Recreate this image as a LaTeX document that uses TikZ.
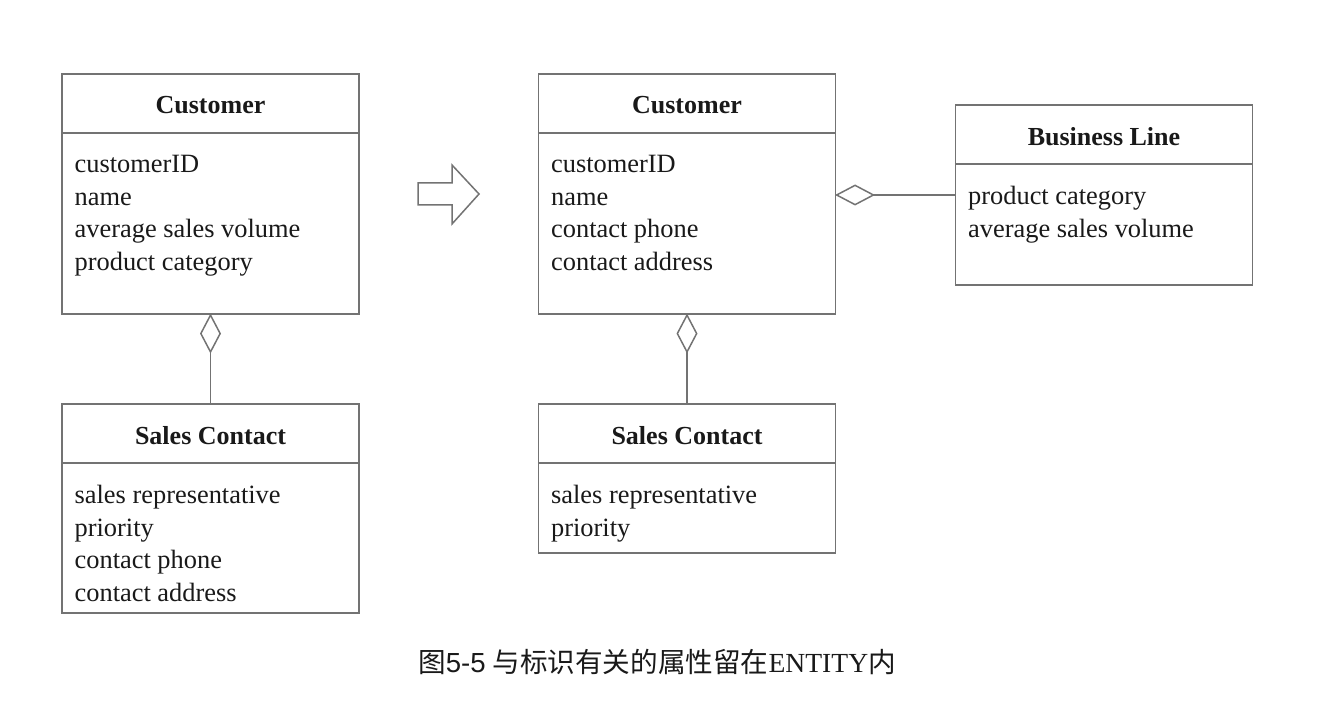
\documentclass[tikz,border=0pt]{standalone}
\usepackage{fontspec}
\setmainfont{Liberation Serif}
\newfontfamily\cjkfont{Noto Sans CJK SC}
\newfontfamily\numfont{Liberation Sans}
\usetikzlibrary{positioning}
\usetikzlibrary{calc}
\usetikzlibrary{arrows.meta}
\colorlet{line colour}{black!55}
\colorlet{text colour}{black!90}
\tikzset{
    % Thin grey outlines throughout
    outline/.style={draw=line colour, line width=0.75pt},
    % Aggregation: open diamond at the whole end
    aggregation/.style={outline, -{Diamond[open, length=20pt, width=10.5pt]}, shorten >=-0.6pt},
    % Text colour for every label
    every node/.style={align=center, text=text colour},
}

\begin{document}
\begin{tikzpicture}[
    classbox/.style={outline, rectangle, inner sep=0, minimum width=148.5pt},
    class title/.style={font=\fontsize{13}{16}\selectfont\bfseries, inner sep=0},
    attr list/.style={anchor=north west, align=left, inner sep=0,
        font=\fontsize{13.2}{16.2}\selectfont},
    x=0.5pt, y=0.5pt,
]
\useasboundingbox (0,0) rectangle (1318,702);

% Class boxes
\path
    (210.5,508) node (customer) [classbox, minimum height=120pt] {}
    (210.5,193.5) node (sales contact) [classbox, minimum height=104.5pt] {}
    (687,508) node (new customer) [classbox, minimum height=120pt] {}
    (687,223.5) node (new sales contact) [classbox, minimum height=74.5pt] {}
    (1104,507) node (business line) [classbox, minimum height=90pt] {};

% Title compartments
\draw [outline] ($(customer.north west)+(0,-60)$) -- ($(customer.north east)+(0,-60)$);
\draw [outline] ($(sales contact.north west)+(0,-60)$) -- ($(sales contact.north east)+(0,-60)$);
\draw [outline] ($(new customer.north west)+(0,-60)$) -- ($(new customer.north east)+(0,-60)$);
\draw [outline] ($(new sales contact.north west)+(0,-60)$) -- ($(new sales contact.north east)+(0,-60)$);
\draw [outline] ($(business line.north west)+(0,-60)$) -- ($(business line.north east)+(0,-60)$);

\path
    ($(customer.north)+(0,-32)$) node (customer title) [class title] {Customer}
    ($(sales contact.north)+(0,-32)$) node (sales contact title) [class title] {Sales Contact}
    ($(new customer.north)+(0,-32)$) node (new customer title) [class title] {Customer}
    ($(new sales contact.north)+(0,-32)$) node (new sales contact title) [class title] {Sales Contact}
    ($(business line.north)+(0,-32)$) node (business line title) [class title] {Business Line};

% Attribute lists
\path
    ($(customer.north west)+(13,-82)$) node (customer attrs) [attr list]
        {customerID\\name\\average sales volume\\product category}
    ($(sales contact.north west)+(13,-82)$) node (sales contact attrs) [attr list]
        {sales representative\\priority\\contact phone\\contact address}
    ($(new customer.north west)+(13,-82)$) node (new customer attrs) [attr list]
        {customerID\\name\\contact phone\\contact address}
    ($(new sales contact.north west)+(13,-82)$) node (new sales contact attrs) [attr list]
        {sales representative\\priority}
    ($(business line.north west)+(13,-82)$) node (business line attrs) [attr list]
        {product category\\average sales volume};

% Aggregations
\draw [aggregation] (sales contact) -- (customer);
\draw [aggregation] (new sales contact) -- (new customer);
\draw [aggregation] (business line.west) -- (business line.west -| new customer.east);

% Hollow block arrow between the two models
\draw [outline, fill=white] (418,519) -- (452,519) -- (452,537) -- (479,508)
    -- (452,478) -- (452,497) -- (418,497) -- cycle;

\node (caption) at (657,40) [font=\fontsize{13.8}{16}\selectfont]
    {{\cjkfont 图}{\numfont 5-5} {\cjkfont 与标识有关的属性留在}ENTITY{\cjkfont 内}};

\end{tikzpicture}
\end{document}
